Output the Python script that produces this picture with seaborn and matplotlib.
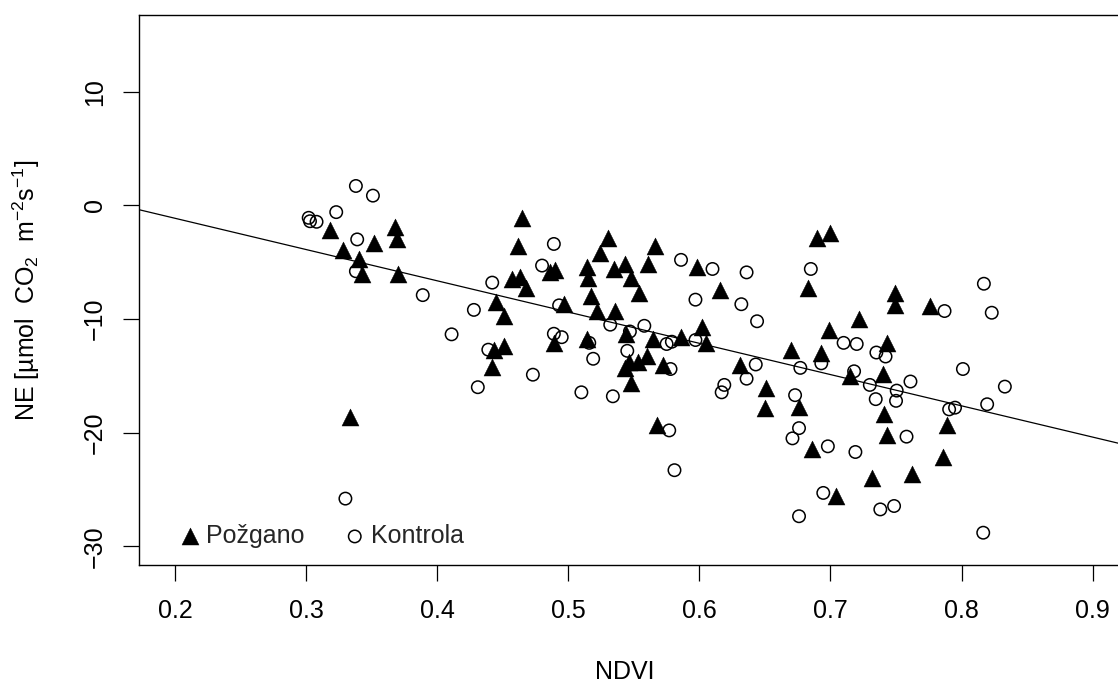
import matplotlib
matplotlib.use("Agg")
import matplotlib.pyplot as plt
import seaborn as sns
import pandas as pd
import numpy as np

# ---- data ----
pozgano_ndvi = [0.318, 0.328, 0.340, 0.343, 0.352, 0.368, 0.369, 0.370, 0.3335, 0.465,
                0.462, 0.457, 0.4635, 0.468, 0.445, 0.451, 0.443, 0.451, 0.442, 0.486,
                0.490, 0.489, 0.5305, 0.524, 0.566, 0.561, 0.514, 0.515, 0.535, 0.543,
                0.548, 0.554, 0.517, 0.497, 0.522, 0.536, 0.514, 0.544, 0.565, 0.546,
                0.553, 0.560, 0.543, 0.5725, 0.548, 0.568, 0.586, 0.602, 0.605, 0.598,
                0.616, 0.631, 0.651, 0.650, 0.670, 0.676, 0.686, 0.683, 0.690, 0.700,
                0.749, 0.749, 0.776, 0.722, 0.699, 0.743, 0.6925, 0.715, 0.740, 0.741,
                0.743, 0.789, 0.786, 0.762, 0.732, 0.704]
pozgano_ne = [-2.2, -3.9, -4.7, -6.0, -3.3, -1.9, -3.0, -6.0, -18.6, -1.1,
              -3.6, -6.5, -6.3, -7.3, -8.5, -9.7, -12.7, -12.4, -14.2, -5.9,
              -5.7, -12.1, -2.9, -4.2, -3.6, -5.2, -5.45, -6.4, -5.6, -5.2,
              -6.4, -7.7, -7.95, -8.7, -9.3, -9.3, -11.8, -11.35, -11.8, -13.75,
              -13.75, -13.25, -14.3, -14.05, -15.6, -19.3, -11.6, -10.7, -12.1, -5.45,
              -7.45, -14.05, -16.1, -17.85, -12.7, -17.7, -21.4, -7.3, -2.9, -2.4,
              -7.7, -8.8, -8.9, -10.0, -11.0, -12.1, -13.0, -15.0, -14.85, -18.4,
              -20.2, -19.3, -22.1, -23.6, -24.0, -25.6]

kontrola_ndvi = [0.302, 0.303, 0.308, 0.323, 0.338, 0.351, 0.339, 0.338, 0.389, 0.442,
                 0.428, 0.411, 0.439, 0.473, 0.431, 0.489, 0.480, 0.493, 0.489, 0.495,
                 0.330, 0.516, 0.519, 0.510, 0.534, 0.532, 0.545, 0.547, 0.558, 0.575,
                 0.579, 0.578, 0.577, 0.581, 0.586, 0.597, 0.597, 0.610, 0.636, 0.632,
                 0.644, 0.643, 0.636, 0.619, 0.617, 0.677, 0.673, 0.676, 0.671, 0.685,
                 0.817, 0.823, 0.787, 0.710, 0.720, 0.735, 0.742, 0.693, 0.718, 0.801,
                 0.730, 0.761, 0.7505, 0.750, 0.7345, 0.833, 0.7905, 0.795, 0.8195, 0.698,
                 0.719, 0.758, 0.6945, 0.676, 0.738, 0.7485, 0.8165]
kontrola_ne = [-1.1, -1.4, -1.45, -0.6, 1.7, 0.85, -3.0, -5.8, -7.9, -6.8,
               -9.2, -11.35, -12.7, -14.9, -16.0, -3.4, -5.3, -8.8, -11.3, -11.6,
               -25.8, -12.1, -13.5, -16.45, -16.8, -10.5, -12.8, -11.1, -10.6, -12.2,
               -12.0, -14.4, -19.8, -23.3, -4.8, -8.3, -11.85, -5.6, -5.9, -8.7,
               -10.2, -14.0, -15.25, -15.8, -16.45, -14.3, -16.7, -19.6, -20.5, -5.6,
               -6.9, -9.45, -9.3, -12.1, -12.2, -12.95, -13.3, -13.9, -14.6, -14.4,
               -15.8, -15.5, -16.3, -17.2, -17.05, -15.95, -17.95, -17.8, -17.5, -21.2,
               -21.7, -20.35, -25.3, -27.35, -26.75, -26.45, -28.8]

fit_intercept = 4.36
fit_slope = -27.5

x_ticks = [0.2, 0.3, 0.4, 0.5, 0.6, 0.7, 0.8, 0.9]
y_ticks = [-30, -20, -10, 0, 10]

# ---- style ----
sns.set_theme(style="white")
plt.rcParams["font.family"] = ["Liberation Sans", "DejaVu Sans"]
plt.rcParams["mathtext.fontset"] = "custom"
plt.rcParams["mathtext.rm"] = "Liberation Sans"
plt.rcParams["mathtext.it"] = "Liberation Sans:italic"
plt.rcParams["mathtext.bf"] = "Liberation Sans:bold"

fig = plt.figure(figsize=(11.18, 6.85), dpi=100)
W, H = 1118, 685
left_px, right_px, top_px, bottom_px = 139.3, 1124, 15, 565
ax = fig.add_axes([left_px / W, 1 - bottom_px / H,
                   (right_px - left_px) / W, (bottom_px - top_px) / H])

df_p = pd.DataFrame({"NDVI": pozgano_ndvi, "NE": pozgano_ne})
df_k = pd.DataFrame({"NDVI": kontrola_ndvi, "NE": kontrola_ne})

sns.scatterplot(data=df_p, x="NDVI", y="NE", marker="^", s=150, color="black",
                edgecolor="black", linewidth=0.3, ax=ax, label="Požgano", zorder=3)
sns.scatterplot(data=df_k, x="NDVI", y="NE", marker="o", s=80, color="black",
                facecolors="none", edgecolors="black", linewidth=1.1, ax=ax,
                label="Kontrola", zorder=3)

ax.axline((0, fit_intercept), slope=fit_slope, color="black", linewidth=0.9, zorder=2)

ax.set_xlim(0.1728, 0.2 + (right_px - 175) / 1311)
ax.set_ylim(-31.64, 16.74)
ax.set_xticks(x_ticks)
ax.set_xticklabels([f"{t:.1f}" for t in x_ticks])
ax.set_yticks(y_ticks)
ax.set_yticklabels([str(t).replace("-", "\u2212") for t in y_ticks], rotation=90, va="center")

ax.tick_params(axis="both", which="major", direction="out", length=11.5, width=0.9,
               color="black", labelsize=18, labelcolor="black", bottom=True, left=True)
ax.tick_params(axis="x", pad=13)
ax.tick_params(axis="y", pad=12)

for side in ["left", "top", "bottom"]:
    ax.spines[side].set_visible(True)
    ax.spines[side].set_color("black")
    ax.spines[side].set_linewidth(1.0)
ax.spines["right"].set_visible(False)

ax.set_xlabel("NDVI", fontsize=18, color="black")
ax.xaxis.set_label_coords((625 - left_px) / (right_px - left_px),
                          (bottom_px - 660) / (bottom_px - top_px))
ax.set_ylabel("NE [µmol  CO$_2$  m$^{-2}$s$^{-1}$]", fontsize=18, color="black")
ax.yaxis.set_label_coords((42 - left_px) / (right_px - left_px), 0.5)

leg = ax.legend(loc="center left",
                bbox_to_anchor=((180 - left_px) / (right_px - left_px),
                                (bottom_px - 536) / (bottom_px - top_px)),
                ncol=2, frameon=False, fontsize=18, borderpad=0, borderaxespad=0,
                handlelength=0.8, handletextpad=0.25, columnspacing=1.6)

fig.savefig("out.png", dpi=100)
